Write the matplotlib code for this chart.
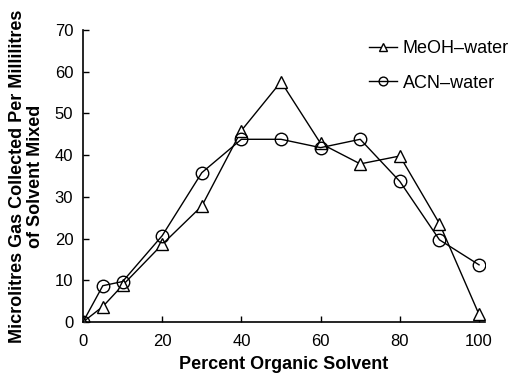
import matplotlib
matplotlib.use("Agg")
import matplotlib.pyplot as plt

plt.rcParams['font.family'] = ['Liberation Sans', 'DejaVu Sans']

x = [0, 5, 10, 20, 30, 40, 50, 60, 70, 80, 90, 100]
meoh = [0, 3.7, 8.8, 18.6, 27.8, 45.9, 57.6, 42.8, 37.9, 39.8, 23.6, 1.8]
acn = [0, 8.7, 9.7, 20.7, 35.8, 43.8, 43.8, 41.8, 43.8, 33.7, 19.7, 13.7]
xticks = [0, 20, 40, 60, 80, 100]
yticks = [0, 10, 20, 30, 40, 50, 60, 70]

fig = plt.figure(figsize=(5.11, 3.77), dpi=100)
ax = fig.add_axes([83/511, 1-322/377, (485-83)/511, (322-30)/377])

ax.plot(x, meoh, color='black', lw=1.0, marker='^', ms=9, mfc='white', mec='black', mew=1.0,
        label='MeOH\u2013water')
ax.plot(x, acn, color='black', lw=1.0, marker='o', ms=9, mfc='none', mec='black', mew=1.0,
        label='ACN\u2013water')

ax.set_xlim(0, 101.5)
ax.set_ylim(0, 70)
ax.set_xticks(xticks)
ax.set_yticks(yticks)
for s in ['top', 'right']:
    ax.spines[s].set_visible(False)
ax.spines['left'].set_linewidth(1.2)
ax.spines['bottom'].set_linewidth(1.2)
ax.tick_params(direction='in', length=4, width=1.0, labelsize=12)
ax.tick_params(axis='x', pad=9)
ax.tick_params(axis='y', pad=7)

ax.set_xlabel('Percent Organic Solvent', fontsize=13, fontweight='bold', labelpad=5)
ax.set_ylabel('Microlitres Gas Collected Per Millilitres\nof Solvent Mixed', fontsize=13,
              fontweight='bold', labelpad=8, linespacing=1.05)

leg = ax.legend(loc='upper right', bbox_to_anchor=(1.10, 1.02), frameon=False, fontsize=13,
                markerscale=0.7, handlelength=1.6, handletextpad=0.3, labelspacing=0.95)

fig.savefig('out.png', dpi=100)
